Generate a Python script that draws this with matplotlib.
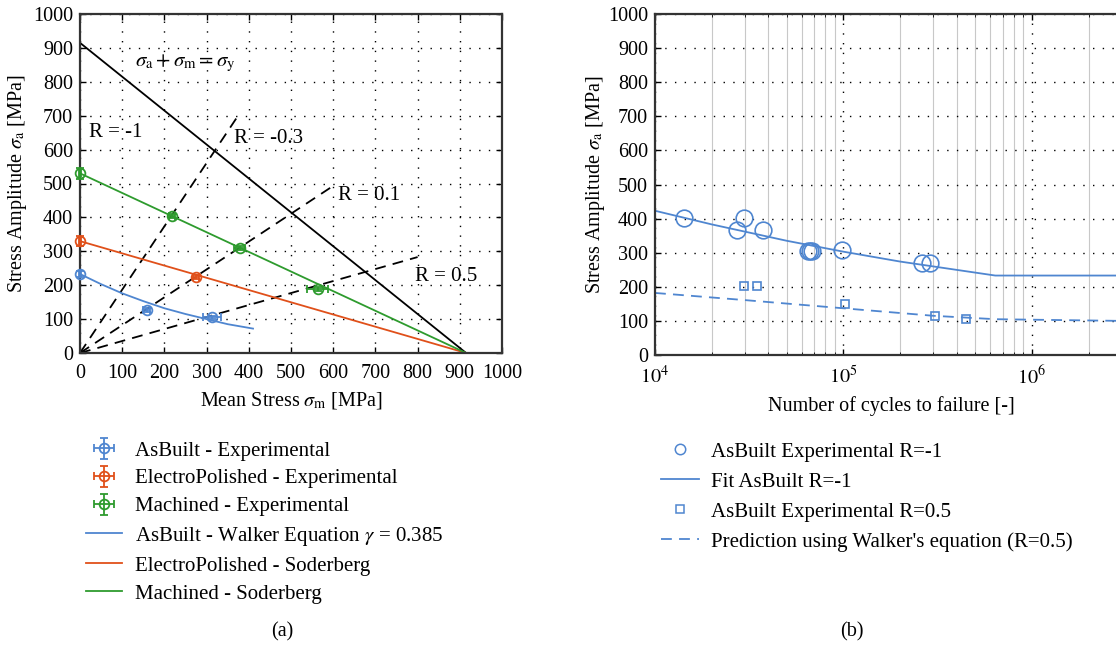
import numpy as np
import matplotlib
matplotlib.use("Agg")
import matplotlib.pyplot as plt
from matplotlib.lines import Line2D

plt.rcParams['font.family'] = ['Liberation Serif', 'DejaVu Serif']
plt.rcParams['mathtext.fontset'] = 'stix'
plt.rcParams['font.size'] = 14

blue = '#4f86d0'
orange = '#e0501a'
green = '#2e9b2e'

# ---- panel (a): Haigh diagram data ----
sigma_y = 915
yield_x = [0, sigma_y]
yield_y = [sigma_y, 0]

# dashed load-ratio lines (end points)
r_lines_x = [[0, 373], [0, 600], [0, 800]]
r_lines_y = [[0, 697], [0, 493], [0, 283]]

asbuilt_m = [0, 158, 313]
asbuilt_a = [233, 128, 105]
asbuilt_xerr = [3, 8, 22]
asbuilt_yerr = [8, 6, 5]

electro_m = [0, 275]
electro_a = [330, 225]
electro_xerr = [3, 8]
electro_yerr = [15, 6]

machined_m = [0, 218, 378, 563]
machined_a = [530, 403, 310, 188]
machined_xerr = [3, 6, 12, 24]
machined_yerr = [16, 6, 6, 6]

walker_m = [0, 50, 100, 150, 200, 250, 300, 350, 410]
walker_a = [233, 203, 176, 153, 132, 115, 100, 85, 72]

soder_ep_x = [0, sigma_y]
soder_ep_y = [330, 0]
soder_mc_x = [0, sigma_y]
soder_mc_y = [530, 0]

# ---- panel (b): S-N data ----
n_r1 = [1.43e4, 2.73e4, 2.96e4, 3.76e4, 6.5e4, 6.65e4, 6.8e4, 9.8e4, 2.6e5, 2.88e5]
s_r1 = [401, 368, 403, 367, 306, 305, 306, 308, 269, 269]

fit_n = [1e4, 2e4, 5e4, 1e5, 2e5, 6.4e5, 1e7]
fit_s = [423, 383, 335, 303, 274, 233, 233]

n_r05 = [2.96e4, 3.49e4, 1.02e5, 3.06e5, 4.47e5]
s_r05 = [202, 202, 149, 114, 106]

pred_n = [1e4, 3e4, 1e5, 3e5, 6.4e5, 3e6, 1e7]
pred_s = [182, 161, 137, 115, 105, 100, 98]

W, H = 1116, 648
fig = plt.figure(figsize=(W / 100, H / 100), dpi=100)

ax1 = fig.add_axes([80 / W, 1 - 353 / H, 422 / W, 339 / H])
ax2 = fig.add_axes([655 / W, 1 - 355 / H, 472 / W, 341 / H])

for ax in (ax1, ax2):
    for s in ax.spines.values():
        s.set_linewidth(1.6)
        s.set_color('#333333')
    ax.tick_params(direction='in', top=True, right=True, length=4, width=1.0,
                   labelsize=14.5, pad=5)
    ax.tick_params(which='minor', direction='in', top=True, right=True, length=2.5)
    ax.tick_params(axis='x', pad=8)

# panel (a)
ax1.set_xlim(0, 1000)
ax1.set_ylim(0, 1000)
ax1.set_xticks(np.arange(0, 1001, 100))
ax1.set_yticks(np.arange(0, 1001, 100))
ax1.grid(True, color='k', linestyle=(0, (1, 6)), linewidth=1.0)

ax1.plot(yield_x, yield_y, color='k', lw=1.3)
for xs, ys in zip(r_lines_x, r_lines_y):
    ax1.plot(xs, ys, color='k', lw=1.3, dashes=(6, 4))

ax1.plot(walker_m, walker_a, color=blue, lw=1.3)
ax1.plot(soder_ep_x, soder_ep_y, color=orange, lw=1.3)
ax1.plot(soder_mc_x, soder_mc_y, color=green, lw=1.3)

eb_kw = dict(fmt='o', mfc='none', ms=7, mew=1.3, capsize=3, elinewidth=1.3,
             capthick=1.3, clip_on=False, zorder=4)
h_ab = ax1.errorbar(asbuilt_m, asbuilt_a, xerr=asbuilt_xerr, yerr=asbuilt_yerr,
                    color=blue, **eb_kw)
h_ep = ax1.errorbar(electro_m, electro_a, xerr=electro_xerr, yerr=electro_yerr,
                    color=orange, **eb_kw)
h_mc = ax1.errorbar(machined_m, machined_a, xerr=machined_xerr, yerr=machined_yerr,
                    color=green, **eb_kw)

ax1.text(130, 855, r'$\sigma_{\rm a} + \sigma_{\rm m} = \sigma_{\rm y}$', fontsize=15,
         va='center')
ax1.text(21, 650, 'R = -1', fontsize=15, va='center')
ax1.text(365, 632, 'R = -0.3', fontsize=15, va='center')
ax1.text(611, 466, 'R = 0.1', fontsize=15, va='center')
ax1.text(793, 227, 'R = 0.5', fontsize=15, va='center')

ax1.set_xlabel(r'Mean Stress $\sigma_{\rm m}$ [MPa]', fontsize=14.5, labelpad=5)
ax1.set_ylabel(r'Stress Amplitude $\sigma_{\rm a}$ [MPa]', fontsize=14.5, labelpad=3)

l_ab = Line2D([], [], color=blue, lw=1.3)
l_ep = Line2D([], [], color=orange, lw=1.3)
l_mc = Line2D([], [], color=green, lw=1.3)
ax1.legend([h_ab, h_ep, h_mc, l_ab, l_ep, l_mc],
           ['AsBuilt - Experimental', 'ElectroPolished - Experimental',
            'Machined - Experimental', r'AsBuilt - Walker Equation $\gamma$ = 0.385',
            'ElectroPolished - Soderberg', 'Machined - Soderberg'],
           loc='upper left', bbox_to_anchor=(86 / W, 1 - 441 / H),
           bbox_transform=fig.transFigure, frameon=False, fontsize=15, borderpad=0,
           handlelength=1.73, handletextpad=0.63, labelspacing=0.4, borderaxespad=0)

# panel (b)
ax2.set_xscale('log')
ax2.set_xlim(1e4, 3.2e6)
ax2.set_ylim(0, 1000)
ax2.set_xticks([1e4, 1e5, 1e6])
ax2.set_xticklabels([r'$10^4$', r'$10^5$', r'$10^6$'])
ax2.set_yticks(np.arange(0, 1001, 100))
ax2.grid(True, which='major', color='k', linestyle=(0, (1, 6)), linewidth=1.0)
ax2.grid(True, which='minor', axis='x', color='#c8c8c8', linestyle='-', linewidth=0.8)

ax2.plot(fit_n, fit_s, color=blue, lw=1.3)
ax2.plot(pred_n, pred_s, color=blue, lw=1.3, dashes=(6, 4))
ax2.plot(n_r1, s_r1, 'o', mfc='none', color=blue, ms=12, mew=1.2)
ax2.plot(n_r05, s_r05, 's', mfc='none', color=blue, ms=5.5, mew=1.2)

ax2.set_xlabel('Number of cycles to failure [-]', fontsize=14.5, labelpad=5)
ax2.set_ylabel(r'Stress Amplitude $\sigma_{\rm a}$ [MPa]', fontsize=14.5, labelpad=1)

p_c = Line2D([], [], ls='none', marker='o', mfc='none', color=blue, ms=7.5, mew=1.1)
p_f = Line2D([], [], color=blue, lw=1.3)
p_s = Line2D([], [], ls='none', marker='s', mfc='none', color=blue, ms=5.5, mew=1.1)
p_d = Line2D([], [], color=blue, lw=1.3, dashes=(6, 4))
ax2.legend([p_c, p_f, p_s, p_d],
           ['AsBuilt Experimental R=-1', 'Fit AsBuilt R=-1',
            'AsBuilt Experimental R=0.5', "Prediction using Walker's equation (R=0.5)"],
           loc='upper left', bbox_to_anchor=(661 / W, 1 - 442 / H),
           bbox_transform=fig.transFigure, frameon=False, fontsize=15, borderpad=0,
           handlelength=1.8, handletextpad=0.6, labelspacing=0.5, borderaxespad=0)

fig.text(282 / W, 1 - 632 / H, '(a)', ha='center', va='center', fontsize=14.5)
fig.text(852 / W, 1 - 632 / H, '(b)', ha='center', va='center', fontsize=14.5)

fig.savefig('out.png', dpi=100)
